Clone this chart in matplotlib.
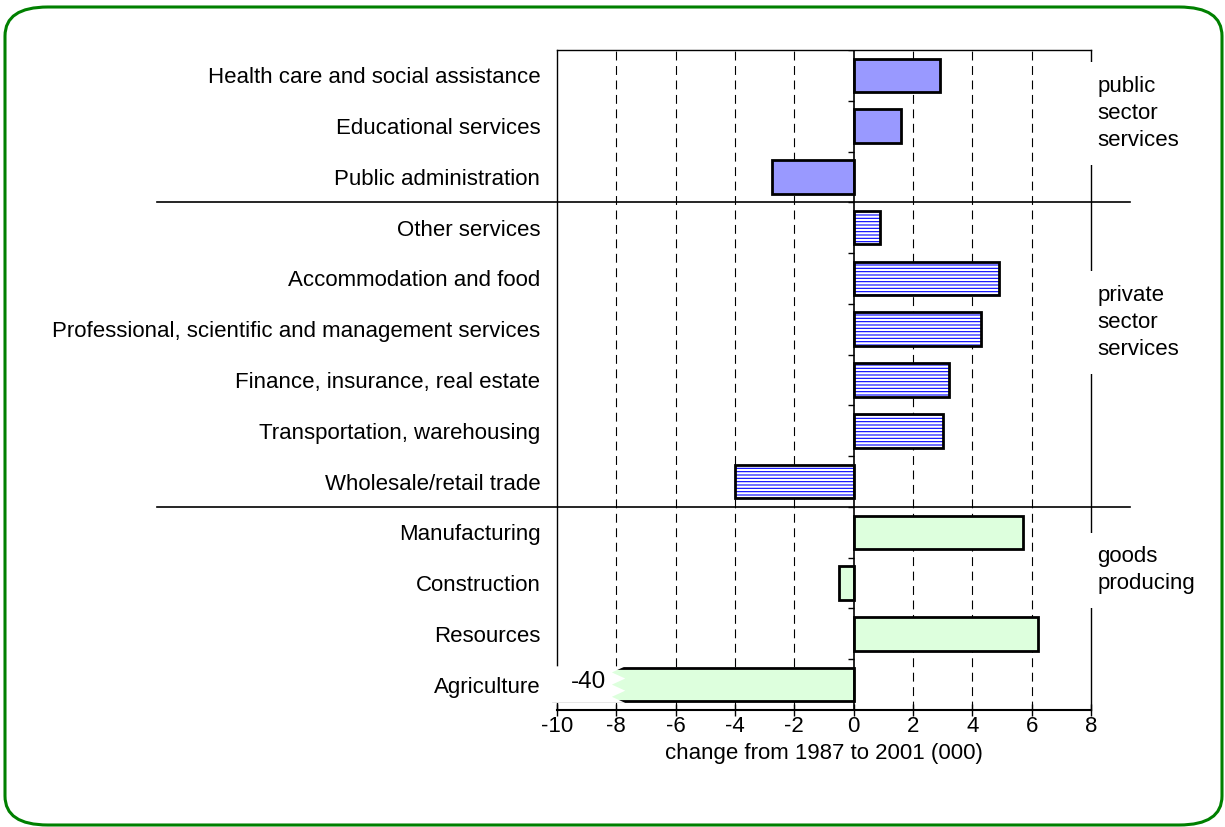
import numpy as np
import matplotlib.pyplot as plt
from matplotlib.patches import FancyBboxPatch, Polygon
import matplotlib.transforms as mtransforms

plt.rcParams['font.family'] = ['Liberation Sans', 'DejaVu Sans']
plt.rcParams['hatch.linewidth'] = 0.8

# industries, top to bottom
industries = ["Health care and social assistance", "Educational services",
              "Public administration", "Other services", "Accommodation and food",
              "Professional, scientific and management services",
              "Finance, insurance, real estate", "Transportation, warehousing",
              "Wholesale/retail trade", "Manufacturing", "Construction",
              "Resources", "Agriculture"]
change = [2.9, 1.6, -2.75, 0.9, 4.9, 4.3, 3.2, 3.0, -4.0, 5.7, -0.5, 6.2, -40]
group = ["public"] * 3 + ["private"] * 6 + ["goods"] * 4
group_labels = ["public\nsector\nservices", "private\nsector\nservices", "goods\nproducing"]
xticks = [-10, -8, -6, -4, -2, 0, 2, 4, 6, 8]
xmin, xmax = -10, 8

fig = plt.figure(figsize=(12.25, 8.27), dpi=100)
ax = fig.add_axes([557 / 1225, 1 - 710 / 827, 534 / 1225, 660 / 827])

n = len(industries)
y = np.arange(n)
h = 0.66
fs = 16

for yi, val, g in zip(y, change, group):
    shown = max(val, xmin - 0.12)
    if g == "public":
        ax.barh(yi, shown, height=h, color="#9999ff", edgecolor="black", lw=2, zorder=3, clip_on=False)
    elif g == "private":
        ax.barh(yi, shown, height=h, color="white", edgecolor="#0000ff", hatch="-----", lw=0, zorder=3)
        ax.barh(yi, shown, height=h, fill=False, edgecolor="black", lw=2, zorder=4)
    else:
        ax.barh(yi, shown, height=h, color="#ddffdd", edgecolor="black", lw=2, zorder=3, clip_on=False)

# broken-bar marker for the off-scale value
ib = int(np.argmin(change))
x0, x1 = xmin - 0.2, -7.7
yt, yb = ib - h / 2 - 0.03, ib + h / 2 + 0.03
zz = np.linspace(yt, yb, 7)
zx = [x1 if k % 2 == 0 else x1 - 0.45 for k in range(len(zz))]
poly = [(x0, yt)] + list(zip(zx, zz)) + [(x0, yb)]
ax.add_patch(Polygon(poly, closed=True, facecolor="white", edgecolor="none", zorder=5, clip_on=False))
ax.text(-8.95, ib - 0.05, "%d" % change[ib], ha="center", va="center", fontsize=fs + 1.5, zorder=6)

ax.set_xlim(xmin, xmax)
ax.set_ylim(n - 0.5, -0.5)

for xv in xticks:
    if xv not in (xmin, 0, xmax):
        ax.axvline(xv, color="black", lw=0.8, ls=(0, (8, 5)), zorder=1)
ax.axvline(0, color="black", lw=1.2, zorder=4)
# small ticks between categories on the zero line
ax.hlines(np.arange(n + 1) - 0.5, -0.2, 0, color="black", lw=1, zorder=4)

ax.set_xticks(xticks)
ax.set_xticklabels([str(v) for v in xticks], fontsize=fs)
ax.tick_params(axis="x", length=8, width=1, direction="inout", pad=0)
ax.set_yticks(y)
ax.set_yticklabels(industries, fontsize=fs)
ax.tick_params(axis="y", length=0, pad=12)
ax.set_xlabel("change from 1987 to 2001 (000)", fontsize=fs, labelpad=5)

for side in ["top", "right", "left"]:
    ax.spines[side].set_linewidth(1.0)
ax.spines["bottom"].set_linewidth(1.5)

# group separators and labels
bounds = [i for i in range(1, n) if group[i] != group[i - 1]]
for b in bounds:
    ax.axhline(b - 0.5, xmin=-0.749, xmax=1.073, color="black", lw=1.2, clip_on=False, zorder=4)

label_pos = [0.75, 4.87, 9.75]
trans = mtransforms.blended_transform_factory(ax.transAxes, ax.transData)
for lab, yl in zip(group_labels, label_pos):
    ax.text(1.012, yl, lab, transform=trans, ha="left", va="center",
            fontsize=fs, linespacing=1.38, zorder=10, clip_on=False,
            bbox=dict(facecolor="white", edgecolor="none", pad=10))

fig.patches.append(FancyBboxPatch((5 / 1225, 2 / 827), 1217 / 1225, 818 / 827,
                                  boxstyle="round,pad=0,rounding_size=0.035",
                                  transform=fig.transFigure, facecolor="none",
                                  edgecolor="#008000", lw=2.2))

fig.savefig("out.png", dpi=100)
